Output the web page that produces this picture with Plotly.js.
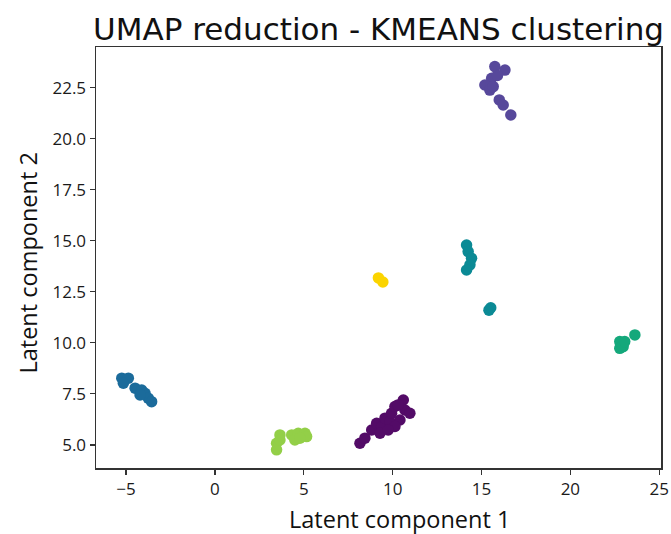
<!DOCTYPE html>
<html>
<head>
<meta charset="utf-8">
<script src="https://cdn.plot.ly/plotly-3.0.1.min.js"></script>
<style>html,body{margin:0;padding:0;background:#fff;}#chart{width:671px;height:534px;}</style>
</head>
<body>
<div id="chart"></div>
<script>
// Cluster 0 (dark purple)
const c0x = [8.16, 8.44, 8.82, 9.10, 9.38, 9.57, 9.85, 9.94, 10.13, 10.60, 10.69, 10.97, 10.41, 10.13, 9.29, 9.75, 10.30];
const c0y = [5.08, 5.33, 5.73, 6.06, 5.90, 6.31, 6.14, 6.55, 6.88, 7.20, 6.71, 6.55, 6.22, 5.90, 5.57, 5.73, 6.96];
// Cluster 1 (top, blue-violet)
const c1x = [15.75, 16.32, 15.57, 15.19, 15.47, 15.66, 16.00, 16.22, 16.65, 15.90];
const c1y = [23.53, 23.36, 22.96, 22.63, 22.38, 22.55, 21.90, 21.65, 21.16, 23.10];
// Cluster 2 (left, blue)
const c2x = [-5.24, -4.87, -5.15, -4.49, -4.12, -3.93, -3.75, -3.56, -4.21];
const c2y = [8.27, 8.27, 8.02, 7.78, 7.69, 7.53, 7.29, 7.12, 7.45];
// Cluster 3 (teal)
const c3x = [14.16, 14.25, 14.44, 14.35, 14.16, 15.42, 15.52];
const c3y = [14.79, 14.47, 14.14, 13.82, 13.57, 11.60, 11.72];
// Cluster 4 (green)
const c4x = [22.78, 22.97, 22.78, 23.06, 23.63];
const c4y = [10.06, 9.81, 9.73, 10.06, 10.39];
// Cluster 5 (lime)
const c5x = [3.66, 3.47, 3.47, 3.66, 4.32, 4.69, 5.07, 5.16, 4.50, 4.78];
const c5y = [5.49, 5.08, 4.76, 5.24, 5.49, 5.57, 5.57, 5.41, 5.24, 5.33];
// Cluster 6 (yellow)
const c6x = [9.20, 9.45];
const c6y = [13.18, 12.98];

const xTicks = [-5, 0, 5, 10, 15, 20, 25];
const yTicks = [5, 7.5, 10, 12.5, 15, 17.5, 20, 22.5];
const yTickText = ['5.0', '7.5', '10.0', '12.5', '15.0', '17.5', '20.0', '22.5'];

const clusters = [
  [c0x, c0y, '#530b67'],
  [c1x, c1y, '#57489b'],
  [c2x, c2y, '#1b6b9b'],
  [c3x, c3y, '#0b8a95'],
  [c4x, c4y, '#14a87b'],
  [c5x, c5y, '#93cf48'],
  [c6x, c6y, '#fbd400']
];

const traces = clusters.map(c => ({
  x: c[0], y: c[1], type: 'scatter', mode: 'markers',
  marker: {size: 11.5, color: c[2], line: {width: 0}},
  hoverinfo: 'x+y', showlegend: false
}));

const axisFont = {family: 'Open Sans, sans-serif', size: 17, color: '#1a1a1a'};
const titleFont = {family: 'Open Sans, sans-serif', size: 23.5, color: '#111'};
const layout = {
  width: 671, height: 534,
  margin: {l: 96, r: 10, t: 47, b: 66},
  paper_bgcolor: '#fff', plot_bgcolor: '#fff',
  title: {
    text: 'UMAP reduction - KMEANS clustering',
    font: {family: 'DejaVu Sans, sans-serif', size: 31, color: '#111'},
    x: 0.5, xanchor: 'center', xref: 'paper',
    y: 0.945, yanchor: 'middle', yref: 'container'
  },
  xaxis: {
    range: [-6.69, 25.1], tickvals: xTicks, ticktext: xTicks.map(v => v < 0 ? '\u2212' + Math.abs(v) : String(v)),
    showgrid: false, zeroline: false,
    showline: true, linecolor: '#333', linewidth: 1.5, mirror: true,
    ticks: 'outside', ticklen: 5, tickwidth: 1.2, tickcolor: '#333',
    tickfont: axisFont
  },
  yaxis: {
    range: [3.87, 24.49], tickvals: yTicks, ticktext: yTickText,
    showgrid: false, zeroline: false,
    showline: true, linecolor: '#333', linewidth: 1.5, mirror: true,
    ticks: 'outside', ticklen: 5, tickwidth: 1.2, tickcolor: '#333',
    tickfont: axisFont
  },
  annotations: [
    {text: 'Latent component 1', xref: 'paper', yref: 'paper', x: 0.538, y: -0.121,
     xanchor: 'center', yanchor: 'middle', showarrow: false, font: titleFont, borderpad: 0},
    {text: 'Latent component 2', xref: 'paper', yref: 'paper', x: -0.1204, y: 0.488,
     xanchor: 'center', yanchor: 'middle', showarrow: false, textangle: -90, font: titleFont, borderpad: 0}
  ]
};

Plotly.newPlot('chart', traces, layout, {displayModeBar: false, staticPlot: true});
</script>
</body>
</html>
